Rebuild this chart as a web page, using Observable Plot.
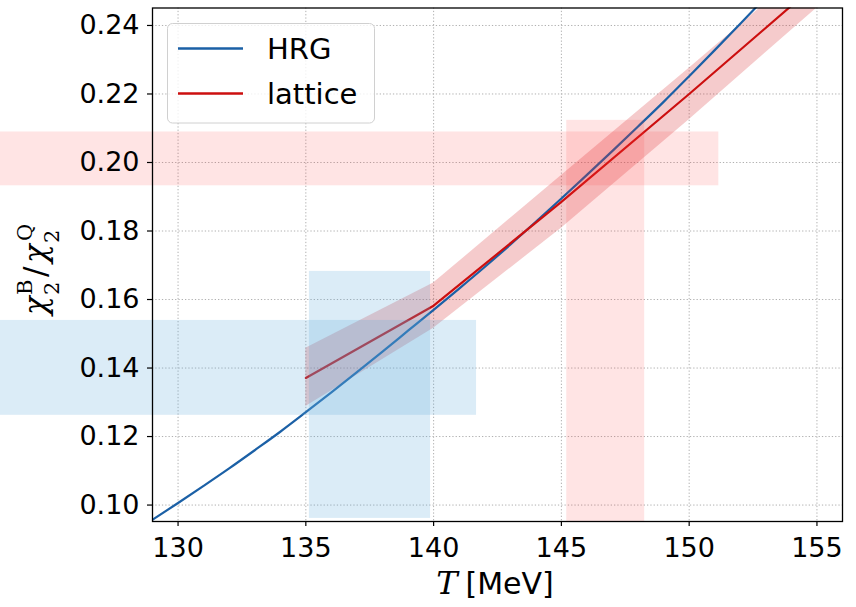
<!DOCTYPE html>
<html><head><meta charset="utf-8">
<script src="https://cdn.jsdelivr.net/npm/d3@7"></script>
<script src="https://cdn.jsdelivr.net/npm/@observablehq/plot@0.6"></script>
<style>
body{margin:0;background:#fff;}
#chart{width:856px;height:607px;}
</style>
</head><body><div id="chart"></div>
<script>
// HRG curve
const hrgT   = [129,130,131,132,133,134,135,136,137,138,139,140,141,142,143,144,145,146,147,148,149,150,151,152,153];
const hrgChi = [0.0957,0.1006,0.1056,0.1107,0.1160,0.1214,0.1271,0.1329,0.1388,0.1448,0.1509,0.1570,0.1632,0.1695,0.1760,0.1827,0.1895,0.1964,0.2034,0.2105,0.2177,0.2252,0.2328,0.2405,0.2483];
// lattice
const latT   = [135,140,145,150,155];
const latChi = [0.1371,0.1582,0.1885,0.2200,0.2522];
const latLo  = [0.1288,0.1516,0.1808,0.2125,0.2451];
const latHi  = [0.1458,0.1648,0.1962,0.2275,0.2593];
// shaded ranges
const bandKind = ["blue","red","blue","red"];
const bandT1 = [123, 123, 135.14, 145.21];
const bandT2 = [141.68, 151.16, 139.88, 148.26];
const bandY1 = [0.1262, 0.1932, 0.0961, 0.0952];
const bandY2 = [0.1539, 0.2089, 0.1682, 0.2123];
// ticks
const xTicks = [130,135,140,145,150,155];
const yTicks = [0.10,0.12,0.14,0.16,0.18,0.20,0.22,0.24];
const legendNames = ["HRG","lattice"];

const hrg = hrgT.map((t,i)=>({T:t, v:hrgChi[i]}));
const lat = latT.map((t,i)=>({T:t, v:latChi[i], lo:latLo[i], hi:latHi[i]}));
const bands = bandKind.map((k,i)=>({kind:k, t1:bandT1[i], t2:bandT2[i], y1:bandY1[i], y2:bandY2[i]}));

const blueLine = "#1b60a6", redLine = "#cc0f0f";

const svg = Plot.plot({
  width: 856, height: 607,
  marginLeft: 152, marginRight: 14, marginTop: 7.5, marginBottom: 86,
  style: {fontFamily: "DejaVu Sans", fontSize: "27px", color: "black", background: "white", overflow: "visible"},
  x: {domain: [129, 156]},
  y: {domain: [0.0952, 0.2451]},
  marks: [
    Plot.gridX(xTicks, {stroke: "#b0b0b0", strokeOpacity: 1, strokeWidth: 1, strokeDasharray: "1.3,2"}),
    Plot.gridY(yTicks, {stroke: "#b0b0b0", strokeOpacity: 1, strokeWidth: 1, strokeDasharray: "1.3,2"}),
    Plot.areaY(lat, {x: "T", y1: "lo", y2: "hi", fill: "#d62728", fillOpacity: 0.24, clip: true}),
    Plot.line(hrg, {x: "T", y: "v", stroke: blueLine, strokeWidth: 2.2, curve: "monotone-x", clip: true}),
    Plot.line(lat, {x: "T", y: "v", stroke: redLine, strokeWidth: 2.2, clip: true}),
    Plot.rect(bands.filter(d=>d.kind==="blue"), {x1: "t1", x2: "t2", y1: "y1", y2: "y2", fill: "#5aa9dc", fillOpacity: 0.22}),
    Plot.rect(bands.filter(d=>d.kind==="red"), {x1: "t1", x2: "t2", y1: "y1", y2: "y2", fill: "#ff3030", fillOpacity: 0.13}),
    Plot.axisX({ticks: xTicks, tickSize: 5, tickPadding: 11, label: null, fontSize: 27, strokeWidth: 1.2}),
    Plot.axisY({ticks: yTicks, tickSize: 5, tickPadding: 8, label: null, fontSize: 27, strokeWidth: 1.2, tickFormat: d3.format(".2f")}),
    Plot.frame({stroke: "black", strokeWidth: 1.3})
  ]
});

const s = d3.select(svg);
// legend
const lg = s.append("g").attr("text-anchor", "start");
lg.append("rect").attr("x", 167.5).attr("y", 23.5).attr("width", 207).attr("height", 99.5)
  .attr("rx", 5).attr("fill", "white").attr("fill-opacity", 0.8).attr("stroke", "#d0d0d0").attr("stroke-width", 1);
const ly = [48.5, 93.5], lc = [blueLine, redLine];
legendNames.forEach((n,i)=>{
  lg.append("line").attr("x1", 178).attr("x2", 243).attr("y1", ly[i]).attr("y2", ly[i]).attr("stroke", lc[i]).attr("stroke-width", 2.5);
  lg.append("text").attr("x", 267).attr("y", ly[i]).attr("dy", "0.36em").attr("text-anchor", "start")
    .attr("font-family", "DejaVu Sans").attr("font-size", 29).attr("fill", "black").text(n);
});
// x label
const xl = s.append("text").attr("x", 495).attr("y", 594).attr("text-anchor", "middle").attr("fill", "black");
xl.append("tspan").attr("font-family", "DejaVu Serif").attr("font-style", "italic").attr("font-size", 32).text("T");
xl.append("tspan").attr("dx", 8).attr("font-family", "DejaVu Sans").attr("font-size", 30).text("[MeV]");
// y label
const yg = s.append("g").attr("transform", "translate(41,266) rotate(-90)").attr("fill", "black").attr("text-anchor", "start");
const serif = "DejaVu Serif";
const part = (txt, x, y, size, italic) => yg.append("text").attr("x", x).attr("y", y).attr("text-anchor", "start")
  .attr("font-family", serif).attr("font-style", italic ? "italic" : "normal").attr("font-size", size).text(txt);
part("χ", -49, 5, 31, true);
part("2", -29, 18, 21, false);
part("B", -29, -9, 21, false);
part("/", -11, 5, 31, false);
part("χ", 3, 5, 31, true);
part("2", 23, 18, 21, false);
part("Q", 25, -9, 21, false);

document.getElementById("chart").appendChild(svg);
</script></body></html>
